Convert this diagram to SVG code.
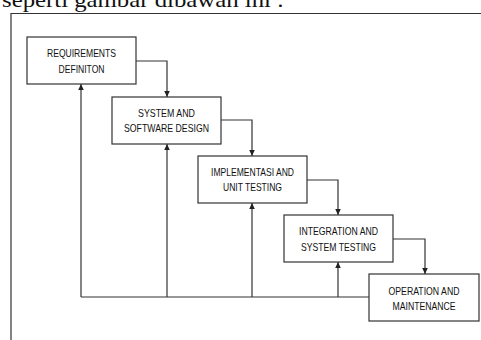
<svg xmlns="http://www.w3.org/2000/svg" width="481" height="340" viewBox="0 0 481 340">
<defs>
<style>
.box{fill:#fff;stroke:#333;stroke-width:1.2}
.lbl{font-family:"Liberation Sans",Arial,sans-serif;font-size:11.5px;fill:#111;text-anchor:middle}
.ln{fill:none;stroke:#333;stroke-width:1.2}
</style>
<marker id="ah" markerWidth="6" markerHeight="8" refX="6" refY="4" orient="auto" markerUnits="userSpaceOnUse">
<path d="M0,1.2 L6,4 L0,6.8 Z" fill="#222"/>
</marker>
</defs>
<rect width="481" height="340" fill="#fff"/>
<text x="2" y="7" font-family="Liberation Serif,'Times New Roman',serif" font-size="22" fill="#111" textLength="282" lengthAdjust="spacingAndGlyphs">seperti gambar dibawah ini :</text>
<g id="frame">
<path class="ln" d="M11,340 V13.5 H481"/>
</g>
<g id="connectors">
<path class="ln" d="M136,61 H167 V97" marker-end="url(#ah)"/>
<path class="ln" d="M221,120 H252 V156" marker-end="url(#ah)"/>
<path class="ln" d="M307,180 H338 V215" marker-end="url(#ah)"/>
<path class="ln" d="M393,239 H425 V274" marker-end="url(#ah)"/>
<path class="ln" d="M369,297 H81"/>
<path class="ln" d="M81,297 V84" marker-end="url(#ah)"/>
<path class="ln" d="M167,297 V144" marker-end="url(#ah)"/>
<path class="ln" d="M252,297 V203" marker-end="url(#ah)"/>
<path class="ln" d="M338,297 V262" marker-end="url(#ah)"/>
</g>
<g id="n1">
<rect class="box" x="27" y="37" width="109" height="47"/>
<text class="lbl" x="81.5" y="57" textLength="69" lengthAdjust="spacingAndGlyphs">REQUIREMENTS</text>
<text class="lbl" x="81.5" y="72.5" textLength="46" lengthAdjust="spacingAndGlyphs">DEFINITON</text>
</g>
<g id="n2">
<rect class="box" x="112" y="97" width="109" height="47"/>
<text class="lbl" x="166.5" y="116.5" textLength="57" lengthAdjust="spacingAndGlyphs">SYSTEM AND</text>
<text class="lbl" x="166.5" y="132" textLength="85" lengthAdjust="spacingAndGlyphs">SOFTWARE DESIGN</text>
</g>
<g id="n3">
<rect class="box" x="198" y="156" width="109" height="47"/>
<text class="lbl" x="252.5" y="176" textLength="83" lengthAdjust="spacingAndGlyphs">IMPLEMENTASI AND</text>
<text class="lbl" x="252.5" y="191" textLength="59" lengthAdjust="spacingAndGlyphs">UNIT TESTING</text>
</g>
<g id="n4">
<rect class="box" x="284" y="215" width="109" height="47"/>
<text class="lbl" x="338.5" y="235" textLength="79" lengthAdjust="spacingAndGlyphs">INTEGRATION AND</text>
<text class="lbl" x="338.5" y="250.5" textLength="75" lengthAdjust="spacingAndGlyphs">SYSTEM TESTING</text>
</g>
<g id="n5">
<rect class="box" x="369" y="274" width="110" height="47"/>
<text class="lbl" x="424" y="295" textLength="71" lengthAdjust="spacingAndGlyphs">OPERATION AND</text>
<text class="lbl" x="424" y="310" textLength="63" lengthAdjust="spacingAndGlyphs">MAINTENANCE</text>
</g>
</svg>
